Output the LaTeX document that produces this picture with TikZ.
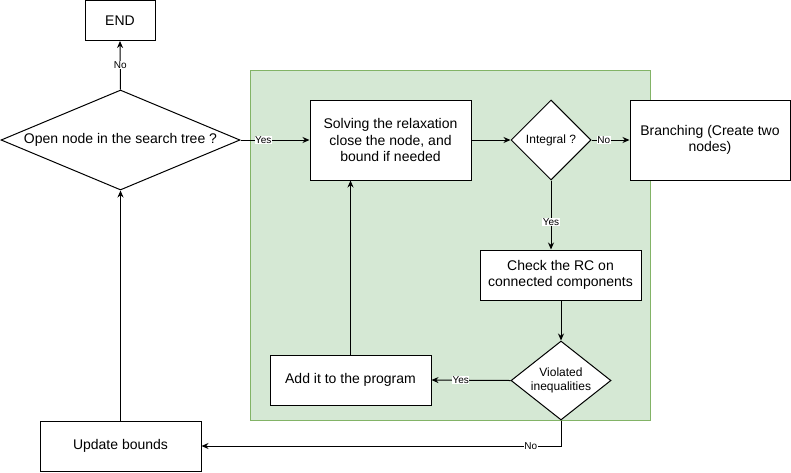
\documentclass[tikz,border=0pt]{standalone}
\usepackage{fontspec}
\setmainfont{Liberation Sans}
\usetikzlibrary{shapes.geometric,arrows.meta}
\definecolor{grfill}{HTML}{D5E8D4}
\definecolor{grdraw}{HTML}{82B366}
\begin{document}
\begin{tikzpicture}[x=1pt,y=-1pt,
  box/.style={draw,fill=white,line width=1pt,inner sep=0pt,align=center,font=\fontsize{14}{16.5}\selectfont},
  dia/.style={draw,fill=white,diamond,line width=1pt,inner sep=0pt,align=center},
  conn/.style={line width=1pt,-{Stealth[length=7pt,width=6pt]}},
  lbl/.style={fill=white,inner sep=0.6pt,font=\fontsize{10}{12}\selectfont}]
\useasboundingbox (0,0) rectangle (791,472);
\node[draw=grdraw,fill=grfill,line width=1pt,minimum width=400pt,minimum height=350pt,inner sep=0pt] (grp) at (450.5,245.5) {};
\node[box,minimum width=70pt,minimum height=40pt] (end) at (120,20.5) {END};
\node[dia,aspect=2.39,minimum width=239pt,minimum height=100pt,font=\fontsize{14}{16.5}\selectfont] (open) at (120.5,140) {Open node in the search tree ?};
\node[box,minimum width=161pt,minimum height=80pt] (sol) at (390.5,140) {Solving the relaxation\\close the node, and\\bound if needed};
\node[dia,aspect=1,minimum width=80pt,minimum height=80pt,font=\fontsize{12}{14}\selectfont] (int) at (551,140) {Integral ?};
\node[box,minimum width=160pt,minimum height=80pt] (br) at (710,140) {Branching (Create two\\nodes)};
\node[box,minimum width=161pt,minimum height=50pt] (chk) at (560.5,275) {Check the RC on\\connected components};
\node[dia,aspect=1.27,minimum width=100pt,minimum height=79pt,font=\fontsize{12}{14}\selectfont] (vio) at (561,380.5) {Violated\\inequalities};
\node[box,minimum width=161pt,minimum height=50pt] (add) at (350.5,380) {Add it to the program};
\node[box,minimum width=161pt,minimum height=50pt] (upd) at (120.5,446) {Update bounds};
\draw[conn] (open.north) -- node[lbl]{No} (end.south);
\draw[conn] (open.east) -- node[lbl,pos=0.33]{Yes} (sol.west);
\draw[conn] (sol.east) -- (int.west);
\draw[conn] (int.east) -- node[lbl,pos=0.32]{No} (br.west);
\draw[conn] (int.south) -- node[lbl,pos=0.6]{Yes} (int.south |- chk.north);
\draw[conn] (vio.north |- chk.south) -- (vio.north);
\draw[conn] (vio.west) -- node[lbl,pos=0.63]{Yes} (add.east);
\draw[conn] (vio.south) |- node[lbl,pos=0.542]{No} (upd.east);
\draw[conn] (upd.north) -- (open.south);
\draw[conn] (add.north) -- (add.north |- sol.south);
\end{tikzpicture}
\end{document}
